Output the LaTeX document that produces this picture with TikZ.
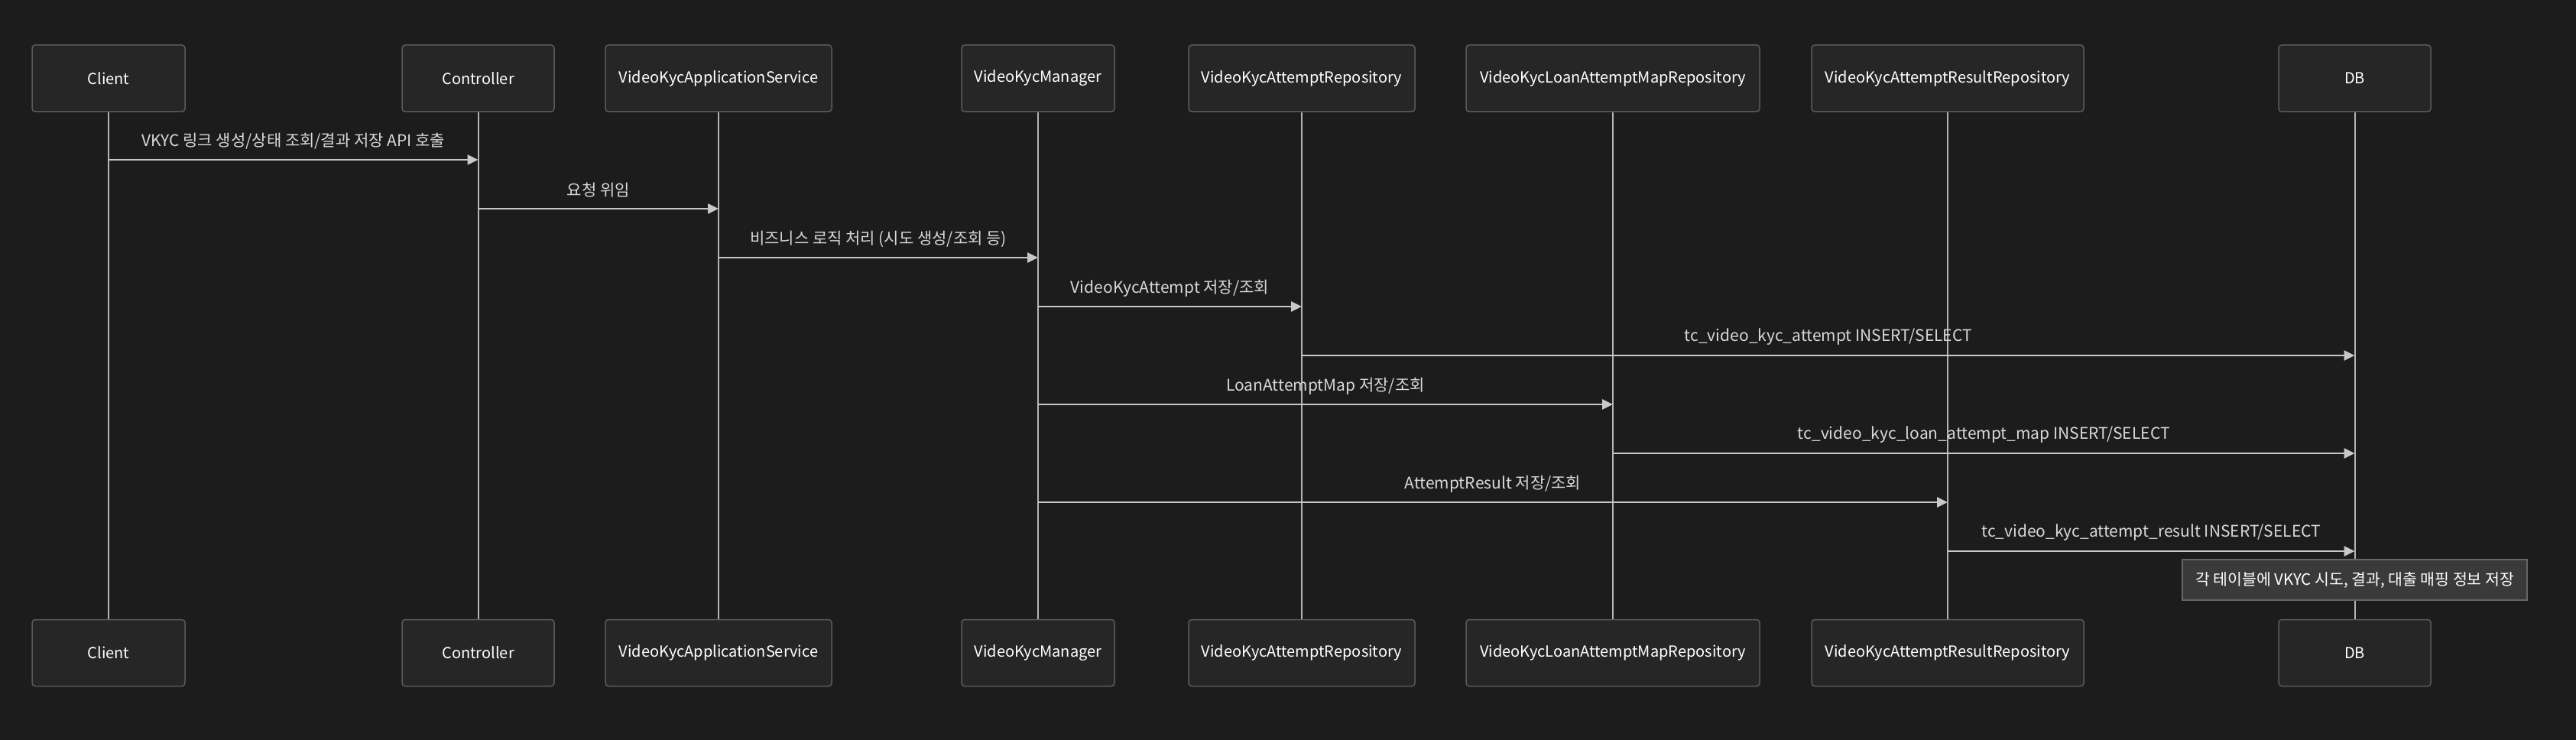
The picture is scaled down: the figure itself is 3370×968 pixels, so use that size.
\documentclass[tikz,border=0pt]{standalone}
\usepackage{fontspec}
\setmainfont{Noto Sans CJK KR}
\usetikzlibrary{arrows.meta}
\definecolor{bg}{HTML}{1C1C1C}
\definecolor{boxfill}{HTML}{262626}
\definecolor{boxdraw}{HTML}{5A5A5A}
\definecolor{linec}{HTML}{C8C8C8}
\definecolor{lifec}{HTML}{B4B4B4}
\definecolor{lblc}{HTML}{D8D8D8}
\definecolor{notefill}{HTML}{3A3A3A}
\definecolor{notedraw}{HTML}{666666}
\tikzset{
  actor/.style={draw=boxdraw, fill=boxfill, rounded corners=4pt, line width=1.5pt,
    minimum height=87pt, inner sep=0pt, text=white, font=\fontsize{20}{24}\selectfont},
  life/.style={draw=lifec, line width=2pt},
  msg/.style={draw=linec, line width=2.5pt, -{Triangle[length=14pt,width=13pt]}},
  lbl/.style={text=lblc, font=\fontsize{21}{25}\selectfont, inner sep=0pt},
  notebox/.style={draw=notedraw, fill=notefill, line width=1.5pt, minimum width=451pt,
    minimum height=53pt, inner sep=0pt, text=white, font=\fontsize{20.5}{24}\selectfont}
}
\begin{document}
\begin{tikzpicture}[x=1pt,y=-1pt]
\fill[bg] (0,0) rectangle (3370,968);
\useasboundingbox (0,0) rectangle (3370,968);
% top actors
\node[actor, minimum width=200pt] (cT) at (142,102.5) {Client};
\node[actor, minimum width=199pt] (kT) at (625.5,102.5) {Controller};
\node[actor, minimum width=296pt] (aT) at (940,102.5) {VideoKycApplicationService};
\node[actor, minimum width=200pt] (mT) at (1358,102.5) {VideoKycManager};
\node[actor, minimum width=296pt] (rT) at (1703,102.5) {VideoKycAttemptRepository};
\node[actor, minimum width=384pt] (lT) at (2110,102.5) {VideoKycLoanAttemptMapRepository};
\node[actor, minimum width=356pt] (sT) at (2548,102.5) {VideoKycAttemptResultRepository};
\node[actor, minimum width=199pt] (dT) at (3080.5,102.5) {DB};
% bottom actors
\node[actor, minimum width=200pt] (cB) at (142,854) {Client};
\node[actor, minimum width=199pt] (kB) at (625.5,854) {Controller};
\node[actor, minimum width=296pt] (aB) at (940,854) {VideoKycApplicationService};
\node[actor, minimum width=200pt] (mB) at (1358,854) {VideoKycManager};
\node[actor, minimum width=296pt] (rB) at (1703,854) {VideoKycAttemptRepository};
\node[actor, minimum width=384pt] (lB) at (2110,854) {VideoKycLoanAttemptMapRepository};
\node[actor, minimum width=356pt] (sB) at (2548,854) {VideoKycAttemptResultRepository};
\node[actor, minimum width=199pt] (dB) at (3080.5,854) {DB};
% lifelines
\foreach \a in {c,k,a,m,r,l,s,d} {
  \draw[life] (\a T.south) -- (\a B.north);
}
% messages
\draw[msg] (cT |- 0,209) -- node[lbl, yshift=24pt] {VKYC 링크 생성/상태 조회/결과 저장 API 호출} (kT |- 0,209);
\draw[msg] (kT |- 0,273) -- node[lbl, yshift=24pt] {요청 위임} (aT |- 0,273);
\draw[msg] (aT |- 0,337) -- node[lbl, yshift=24pt] {비즈니스 로직 처리 (시도 생성/조회 등)} (mT |- 0,337);
\draw[msg] (mT |- 0,401) -- node[lbl, yshift=24pt] {VideoKycAttempt 저장/조회} (rT |- 0,401);
\draw[msg] (rT |- 0,465) -- node[lbl, yshift=24pt] {tc\_video\_kyc\_attempt INSERT/SELECT} (dT |- 0,465);
\draw[msg] (mT |- 0,529) -- node[lbl, yshift=24pt] {LoanAttemptMap 저장/조회} (lT |- 0,529);
\draw[msg] (lT |- 0,593) -- node[lbl, yshift=24pt] {tc\_video\_kyc\_loan\_attempt\_map INSERT/SELECT} (dT |- 0,593);
\draw[msg] (mT |- 0,657) -- node[lbl, yshift=24pt] {AttemptResult 저장/조회} (sT |- 0,657);
\draw[msg] (sT |- 0,721) -- node[lbl, yshift=24pt] {tc\_video\_kyc\_attempt\_result INSERT/SELECT} (dT |- 0,721);
% note
\node[notebox] (note) at (3080.5,758.5) {각 테이블에 VKYC 시도, 결과, 대출 매핑 정보 저장};
\end{tikzpicture}
\end{document}
